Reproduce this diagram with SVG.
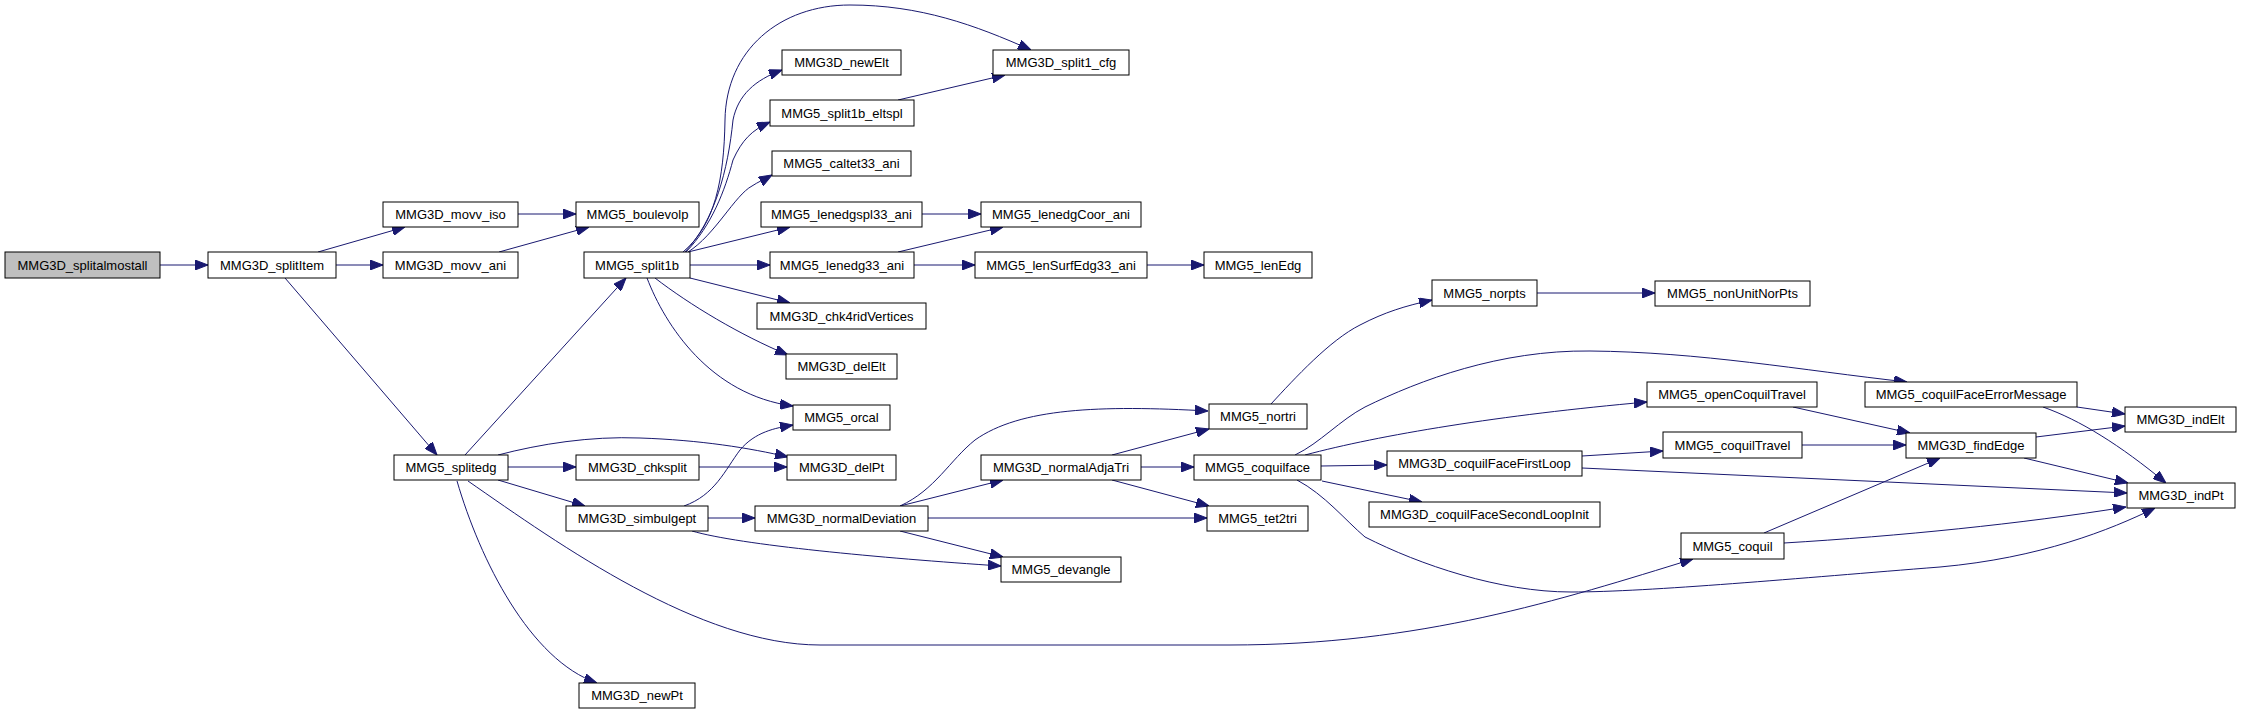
<svg xmlns="http://www.w3.org/2000/svg" width="2241" height="715" viewBox="0 0 2241 715">
<defs>
<style>
.n rect{fill:#ffffff;stroke:#000000;stroke-width:1}
.n.root rect{fill:#bfbfbf}
.n text{font-family:"Liberation Sans",Arial,Helvetica,sans-serif;font-size:13px;fill:#000000;text-anchor:middle}
.e path{fill:none;stroke:#191970;stroke-width:1;marker-end:url(#ah)}
</style>
<marker id="ah" markerWidth="13" markerHeight="10" refX="13" refY="5" orient="auto" markerUnits="userSpaceOnUse"><path d="M0,0 L13,5 L0,10 z" fill="#191970" stroke="#191970" stroke-width="1" style="marker-end:none"/></marker>
</defs>
<rect width="2241" height="715" fill="#ffffff"/>
<g id="edges" class="e">
<path d="M160,265 L208,265"/>
<path d="M318,252 L405,227"/>
<path d="M336,265 L383,265"/>
<path d="M285,278 L437,455"/>
<path d="M518,214 L576,214"/>
<path d="M499,252 L589,227"/>
<path d="M465,455 L626,278"/>
<path d="M498,455 C540,444 590,436 640,438 C700,440 750,448 788,457"/>
<path d="M508,467 L576,467"/>
<path d="M498,480 L585,506"/>
<path d="M468,481 C560,545 700,645 820,645 L1230,645 C1420,645 1560,600 1693,559"/>
<path d="M457,481 C480,560 530,660 597,683"/>
<path d="M683,252 C715,225 724,180 725,120 C726,50 780,5 850,5 C920,5 975,25 1031,50"/>
<path d="M685,252 C715,220 728,170 733,120 C738,95 755,80 782,70"/>
<path d="M686,252 C712,225 725,190 733,160 C742,140 752,130 770,122"/>
<path d="M688,252 C715,235 735,195 752,186 C758,182 765,179 772,175"/>
<path d="M688,252 L790,227"/>
<path d="M690,265 L770,265"/>
<path d="M690,278 L790,303"/>
<path d="M655,278 C690,305 740,335 788,355"/>
<path d="M647,278 C665,325 710,395 793,406"/>
<path d="M898,100 L1005,75"/>
<path d="M922,214 L981,214"/>
<path d="M898,252 L1003,227"/>
<path d="M914,265 L975,265"/>
<path d="M1147,265 L1204,265"/>
<path d="M699,467 L787,467"/>
<path d="M684,506 C715,495 725,470 740,450 C755,432 775,428 793,425"/>
<path d="M708,518 L755,518"/>
<path d="M692,531 C740,545 880,558 1001,566"/>
<path d="M900,506 C935,490 950,460 975,440 C1020,408 1100,405 1208,411"/>
<path d="M900,506 L1003,480"/>
<path d="M928,518 L1207,518"/>
<path d="M900,531 L1003,557"/>
<path d="M1112,455 L1209,429"/>
<path d="M1141,467 L1194,467"/>
<path d="M1112,480 L1209,506"/>
<path d="M1271,404 C1295,378 1330,340 1360,325 C1385,312 1405,306 1432,300"/>
<path d="M1537,293 L1655,293"/>
<path d="M1295,455 C1320,443 1340,420 1365,407 C1420,380 1500,350 1590,351 C1700,352 1800,370 1907,382"/>
<path d="M1305,455 C1380,435 1500,415 1647,402"/>
<path d="M1321,466 L1387,465"/>
<path d="M1322,481 L1422,502"/>
<path d="M1297,480 C1325,495 1345,520 1365,537 C1420,565 1500,592 1571,592 C1650,592 1800,578 1940,567 C2040,558 2110,530 2155,508"/>
<path d="M1582,456 L1663,451"/>
<path d="M1582,468 L2127,493"/>
<path d="M1793,407 L1910,433"/>
<path d="M1802,445 L1906,445"/>
<path d="M1764,533 L1940,458"/>
<path d="M1784,543 C1900,536 2020,524 2126,507"/>
<path d="M2036,437 L2125,426"/>
<path d="M2024,458 L2128,483"/>
<path d="M2077,407 L2125,414"/>
<path d="M2043,407 C2080,420 2120,445 2166,483"/>
</g>
<g id="n_splitalmostall" class="n root"><rect x="5" y="252" width="155" height="26"/><text x="82.5" y="270">MMG3D_splitalmostall</text></g>
<g id="n_splitItem" class="n"><rect x="208" y="252" width="128" height="26"/><text x="272" y="270">MMG3D_splitItem</text></g>
<g id="n_movv_iso" class="n"><rect x="383" y="202" width="135" height="25"/><text x="450.5" y="219">MMG3D_movv_iso</text></g>
<g id="n_movv_ani" class="n"><rect x="383" y="252" width="135" height="26"/><text x="450.5" y="270">MMG3D_movv_ani</text></g>
<g id="n_splitedg" class="n"><rect x="394" y="455" width="114" height="25"/><text x="451" y="472">MMG5_splitedg</text></g>
<g id="n_boulevolp" class="n"><rect x="576" y="202" width="123" height="25"/><text x="637.5" y="219">MMG5_boulevolp</text></g>
<g id="n_split1b" class="n"><rect x="584" y="252" width="106" height="26"/><text x="637" y="270">MMG5_split1b</text></g>
<g id="n_newElt" class="n"><rect x="782" y="50" width="119" height="25"/><text x="841.5" y="67">MMG3D_newElt</text></g>
<g id="n_split1b_eltspl" class="n"><rect x="770" y="100" width="144" height="26"/><text x="842" y="118">MMG5_split1b_eltspl</text></g>
<g id="n_caltet33_ani" class="n"><rect x="772" y="151" width="139" height="25"/><text x="841.5" y="168">MMG5_caltet33_ani</text></g>
<g id="n_lenedgspl33_ani" class="n"><rect x="761" y="202" width="161" height="25"/><text x="841.5" y="219">MMG5_lenedgspl33_ani</text></g>
<g id="n_lenedg33_ani" class="n"><rect x="770" y="252" width="144" height="26"/><text x="842" y="270">MMG5_lenedg33_ani</text></g>
<g id="n_chk4ridVertices" class="n"><rect x="757" y="303" width="169" height="26"/><text x="841.5" y="321">MMG3D_chk4ridVertices</text></g>
<g id="n_delElt" class="n"><rect x="786" y="354" width="111" height="25"/><text x="841.5" y="371">MMG3D_delElt</text></g>
<g id="n_orcal" class="n"><rect x="793" y="405" width="97" height="25"/><text x="841.5" y="422">MMG5_orcal</text></g>
<g id="n_delPt" class="n"><rect x="787" y="455" width="109" height="25"/><text x="841.5" y="472">MMG3D_delPt</text></g>
<g id="n_chksplit" class="n"><rect x="576" y="455" width="123" height="25"/><text x="637.5" y="472">MMG3D_chksplit</text></g>
<g id="n_simbulgept" class="n"><rect x="566" y="506" width="142" height="25"/><text x="637" y="523">MMG3D_simbulgept</text></g>
<g id="n_normalDeviation" class="n"><rect x="755" y="506" width="173" height="25"/><text x="841.5" y="523">MMG3D_normalDeviation</text></g>
<g id="n_newPt" class="n"><rect x="579" y="683" width="116" height="25"/><text x="637" y="700">MMG3D_newPt</text></g>
<g id="n_split1_cfg" class="n"><rect x="993" y="50" width="136" height="25"/><text x="1061" y="67">MMG3D_split1_cfg</text></g>
<g id="n_lenedgCoor_ani" class="n"><rect x="981" y="202" width="160" height="25"/><text x="1061" y="219">MMG5_lenedgCoor_ani</text></g>
<g id="n_lenSurfEdg33_ani" class="n"><rect x="975" y="252" width="172" height="26"/><text x="1061" y="270">MMG5_lenSurfEdg33_ani</text></g>
<g id="n_normalAdjaTri" class="n"><rect x="981" y="455" width="160" height="25"/><text x="1061" y="472">MMG3D_normalAdjaTri</text></g>
<g id="n_devangle" class="n"><rect x="1001" y="557" width="120" height="25"/><text x="1061" y="574">MMG5_devangle</text></g>
<g id="n_lenEdg" class="n"><rect x="1204" y="252" width="108" height="26"/><text x="1258" y="270">MMG5_lenEdg</text></g>
<g id="n_norpts" class="n"><rect x="1432" y="280" width="105" height="26"/><text x="1484.5" y="298">MMG5_norpts</text></g>
<g id="n_nonUnitNorPts" class="n"><rect x="1655" y="281" width="155" height="25"/><text x="1732.5" y="298">MMG5_nonUnitNorPts</text></g>
<g id="n_nortri" class="n"><rect x="1209" y="404" width="98" height="25"/><text x="1258" y="421">MMG5_nortri</text></g>
<g id="n_coquilface" class="n"><rect x="1194" y="455" width="127" height="25"/><text x="1257.5" y="472">MMG5_coquilface</text></g>
<g id="n_tet2tri" class="n"><rect x="1207" y="506" width="101" height="25"/><text x="1257.5" y="523">MMG5_tet2tri</text></g>
<g id="n_coquilFaceFirstLoop" class="n"><rect x="1387" y="451" width="195" height="25"/><text x="1484.5" y="468">MMG3D_coquilFaceFirstLoop</text></g>
<g id="n_coquilFaceSecondLoopInit" class="n"><rect x="1369" y="502" width="231" height="25"/><text x="1484.5" y="519">MMG3D_coquilFaceSecondLoopInit</text></g>
<g id="n_openCoquilTravel" class="n"><rect x="1647" y="382" width="170" height="25"/><text x="1732" y="399">MMG5_openCoquilTravel</text></g>
<g id="n_coquilTravel" class="n"><rect x="1663" y="432" width="139" height="26"/><text x="1732.5" y="450">MMG5_coquilTravel</text></g>
<g id="n_coquil" class="n"><rect x="1681" y="533" width="103" height="26"/><text x="1732.5" y="551">MMG5_coquil</text></g>
<g id="n_coquilFaceErrorMessage" class="n"><rect x="1865" y="382" width="212" height="25"/><text x="1971" y="399">MMG5_coquilFaceErrorMessage</text></g>
<g id="n_indElt" class="n"><rect x="2125" y="407" width="111" height="25"/><text x="2180.5" y="424">MMG3D_indElt</text></g>
<g id="n_findEdge" class="n"><rect x="1906" y="433" width="130" height="25"/><text x="1971" y="450">MMG3D_findEdge</text></g>
<g id="n_indPt" class="n"><rect x="2127" y="483" width="108" height="25"/><text x="2181" y="500">MMG3D_indPt</text></g>
</svg>
